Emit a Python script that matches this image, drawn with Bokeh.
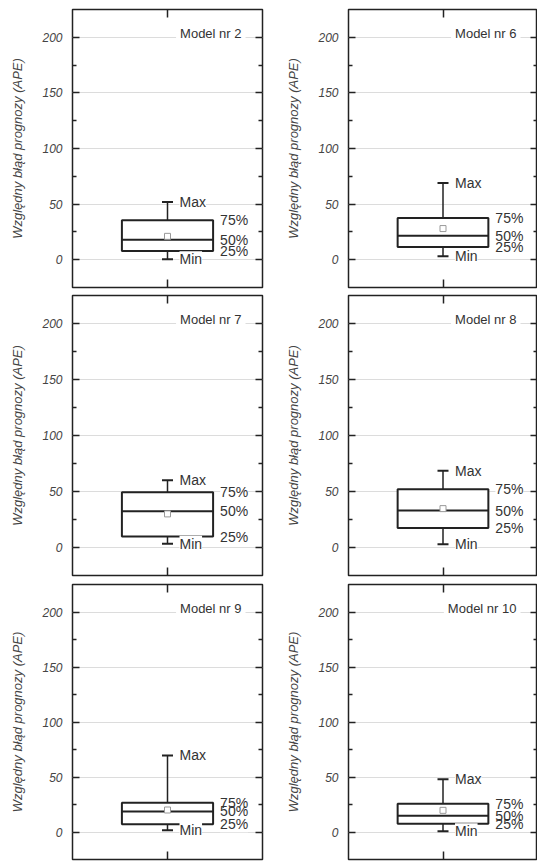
from bokeh.plotting import figure
from bokeh.layouts import gridplot
from bokeh.models import LinearAxis, FixedTicker, Range1d, Label, ColumnDataSource
from bokeh.embed import file_html
from bokeh.resources import INLINE

# ---- data ----
models = ["Model nr 2", "Model nr 6", "Model nr 7", "Model nr 8", "Model nr 9", "Model nr 10"]
mins = [0.5, 3.0, 3.3, 3.0, 1.5, 0.6]
q25 = [7.8, 11.5, 9.8, 17.4, 7.0, 7.6]
medians = [18.0, 21.5, 32.4, 33.0, 18.7, 14.8]
q75 = [35.5, 37.4, 49.4, 52.0, 26.5, 25.7]
maxs = [52.0, 69.0, 60.0, 68.5, 69.6, 48.0]
means = [21.0, 28.0, 30.0, 34.7, 20.0, 19.7]

y_major = [0, 50, 100, 150, 200]
y_minor = [25, 75, 125, 175]
y_label = "Względny błąd prognozy (APE)"

X_POS = 1.0
BOX_W = 0.48
X_RANGE = (0.5, 1.5)
Y_RANGE = (-25, 225)

FONT = "Liberation Sans"
TEXT = "#333333"
FRAME = "#222222"

row_tops = [9, 4, 4]
row_frames = [278, 280, 275]
row_bottoms = [4, 5, 2]


def tick_axis(ticks, tick_in, minor=None):
    kw = dict(ticker=FixedTicker(ticks=ticks, minor_ticks=minor or []), axis_line_color=None,
              major_tick_in=tick_in, major_tick_out=0, minor_tick_in=4, minor_tick_out=0,
              major_tick_line_color=FRAME, minor_tick_line_color=FRAME,
              major_tick_line_width=1.5, minor_tick_line_width=1.5,
              major_label_text_font_size="0px", major_label_standoff=0,
              major_label_overrides={t: "" for t in ticks})
    return LinearAxis(**kw)


def make_panel(i):
    row, col = divmod(i, 2)
    p = figure(frame_width=190 if col == 0 else 189, frame_height=row_frames[row],
               x_range=Range1d(*X_RANGE), y_range=Range1d(*Y_RANGE),
               x_axis_location=None, y_axis_location=None,
               min_border_left=72 if col == 0 else 83,
               min_border_right=3 if col == 0 else 0,
               min_border_top=row_tops[row], min_border_bottom=row_bottoms[row],
               output_backend="svg", toolbar_location=None,
               background_fill_color="white", border_fill_color="white")
    p.outline_line_color = FRAME
    p.outline_line_width = 1.5

    # horizontal grid lines at the major ticks only
    p.xgrid.visible = False
    p.ygrid.ticker = FixedTicker(ticks=y_major)
    p.ygrid.grid_line_color = "#dcdcdc"
    p.ygrid.grid_line_width = 1

    yax = LinearAxis(ticker=FixedTicker(ticks=y_major, minor_ticks=y_minor),
                     axis_line_color=None,
                     major_tick_in=7, major_tick_out=0, minor_tick_in=4, minor_tick_out=0,
                     major_tick_line_color=FRAME, minor_tick_line_color=FRAME,
                     major_tick_line_width=1.5, minor_tick_line_width=1.5,
                     major_label_text_font=FONT, major_label_text_font_size="12px",
                     major_label_text_font_style="italic", major_label_text_color="#444444",
                     major_label_standoff=10,
                     axis_label=y_label, axis_label_text_font=FONT,
                     axis_label_text_font_size="13px", axis_label_text_font_style="italic",
                     axis_label_text_color="#444444", axis_label_standoff=14)
    p.add_layout(yax, "left")
    p.add_layout(tick_axis(y_major, 7, y_minor), "right")
    p.add_layout(tick_axis([X_POS], 8), "above")
    p.add_layout(tick_axis([X_POS], 8), "below")

    src = ColumnDataSource(dict(
        x=[X_POS], left=[X_POS - BOX_W / 2], right=[X_POS + BOX_W / 2],
        mn=[mins[i]], q1=[q25[i]], med=[medians[i]], q3=[q75[i]], mx=[maxs[i]], mean=[means[i]]))

    p.segment(x0="x", y0="q3", x1="x", y1="mx", source=src, line_color=FRAME, line_width=1.5)
    p.segment(x0="x", y0="q1", x1="x", y1="mn", source=src, line_color=FRAME, line_width=1.5)
    p.scatter(x="x", y="mx", source=src, marker="dash", size=11, line_color=FRAME, line_width=2)
    p.scatter(x="x", y="mn", source=src, marker="dash", size=11, line_color=FRAME, line_width=2)
    p.quad(left="left", right="right", bottom="q1", top="q3", source=src,
           fill_color="white", line_color=FRAME, line_width=2)
    p.segment(x0="left", y0="med", x1="right", y1="med", source=src, line_color=FRAME, line_width=2)
    p.scatter(x="x", y="mean", source=src, marker="square", size=6,
              fill_color="white", line_color="#999999", line_width=1)

    def lab(x, y, text, xo, bg="white"):
        p.add_layout(Label(x=x, y=y, text=text, x_offset=xo,
                           text_align="left", text_baseline="middle",
                           text_font=FONT, text_font_size="14px", text_color=TEXT,
                           background_fill_color=bg, padding=0))

    lab(X_POS, maxs[i], "Max", 12)
    lab(X_POS, mins[i], "Min", 12)
    lab(X_POS + BOX_W / 2, q75[i], "75%", 7)
    lab(X_POS + BOX_W / 2, q25[i], "25%", 7)
    lab(X_POS + BOX_W / 2, medians[i], "50%", 7, bg=None)

    p.add_layout(Label(x=X_RANGE[1], y=Y_RANGE[1], text=models[i], x_offset=-17, y_offset=-24,
                       text_align="right", text_baseline="middle",
                       text_font=FONT, text_font_size="13px", text_color=TEXT,
                       background_fill_color="white", padding=4))
    return p


panels = [make_panel(i) for i in range(6)]
grid = gridplot([[panels[0], panels[1]], [panels[2], panels[3]], [panels[4], panels[5]]],
                toolbar_location=None)

open("out.html", "w").write(file_html(grid, INLINE))
